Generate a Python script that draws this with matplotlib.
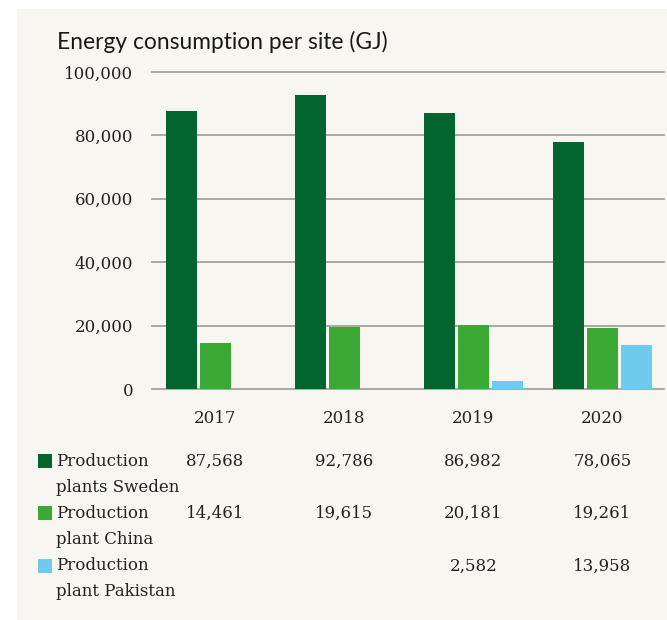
import numpy as np
import matplotlib
matplotlib.use("Agg")
import matplotlib.pyplot as plt
from matplotlib.patches import Rectangle

years = ["2017", "2018", "2019", "2020"]
series = [("Production", "plants Sweden"), ("Production", "plant China"), ("Production", "plant Pakistan")]
sweden = [87568, 92786, 86982, 78065]
china = [14461, 19615, 20181, 19261]
pakistan = [np.nan, np.nan, 2582, 13958]
yticks = [0, 20000, 40000, 60000, 80000, 100000]

colors = ["#02652f", "#3aaa35", "#6ecbee"]
bg = "#f7f6f1"
grid_c = "#a5a29a"
serif = "DejaVu Serif"

W, H = 667, 620
fig = plt.figure(figsize=(W / 100, H / 100), dpi=100)
fig.patch.set_facecolor("white")


def fx(px):
    return px / W


def fy(py):
    return 1 - py / H


# beige panel
fig.add_artist(Rectangle((fx(17), 0), 1 - fx(17), fy(9), transform=fig.transFigure,
                         facecolor=bg, edgecolor="none", zorder=0))

ax_left, ax_right, ax_top, ax_bot = 152, 664, 72, 389
ax = fig.add_axes([fx(ax_left), fy(ax_bot), (ax_right - ax_left) / W, (ax_bot - ax_top) / H])
ax.set_facecolor("none")
for s in ax.spines.values():
    s.set_visible(False)

x = np.arange(len(years))
step = 0.2636
width = 0.240
for i, vals in enumerate([sweden, china, pakistan]):
    ax.bar(x + (i - 1) * step, vals, width, color=colors[i], zorder=3)

for t in yticks:
    ax.axhline(t, color=grid_c, lw=1.3, zorder=1, clip_on=False)

ax.set_xlim(-0.492, 3.477)
ax.set_ylim(0, 100000)
ax.set_yticks(yticks)
ax.set_yticklabels([f"{v:,}" for v in yticks], fontfamily=serif, fontsize=12, color="#222222")
ax.tick_params(axis="y", length=0, pad=13.5)
ax.set_xticks(x)
ax.set_xticklabels(years, fontfamily=serif, fontsize=12, color="#222222")
ax.tick_params(axis="x", length=0, pad=15)

fig.text(fx(57), fy(49), "Energy consumption per site (GJ)", fontfamily="Lato",
         fontsize=16.4, color="#1a1a1a", ha="left", va="baseline")

# table below chart
row_y = [461, 513, 566]
line_gap = 26
trans = ax.get_xaxis_transform()
for r, (name, vals) in enumerate(zip(series, [sweden, china, pakistan])):
    y0 = row_y[r]
    fig.add_artist(Rectangle((fx(38), fy(y0 + 7)), fx(14), 14 / H, transform=fig.transFigure,
                             facecolor=colors[r], edgecolor="none"))
    fig.text(fx(56), fy(y0), name[0], fontfamily=serif, fontsize=12, color="#222222",
             ha="left", va="center")
    fig.text(fx(56), fy(y0 + line_gap), name[1], fontfamily=serif, fontsize=12, color="#222222",
             ha="left", va="center")
    for j, v in enumerate(vals):
        if np.isnan(v):
            continue
        ax.text(x[j], (ax_bot - y0) / (ax_bot - ax_top), f"{int(v):,}", transform=trans,
                fontfamily=serif, fontsize=12, color="#222222", ha="center", va="center")

fig.savefig("out.png", dpi=100)
